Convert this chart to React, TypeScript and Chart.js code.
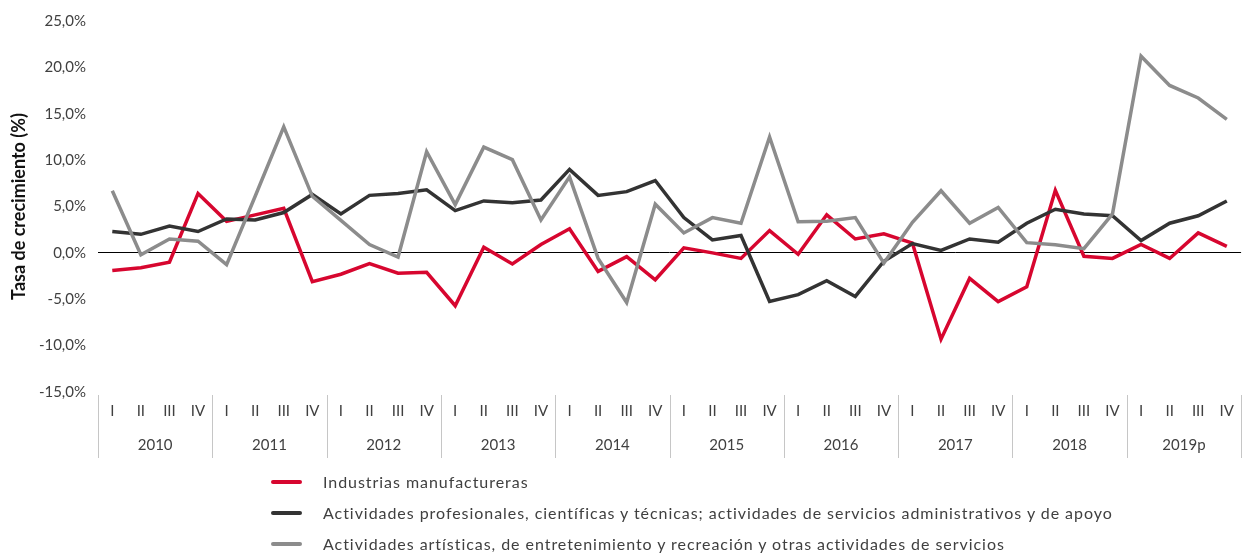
import React, { useEffect, useRef } from 'react';
import { Chart, registerables } from 'chart.js';

Chart.register(...registerables);

const years = ['2010', '2011', '2012', '2013', '2014', '2015', '2016', '2017', '2018', '2019p'];
const quarters = ['I', 'II', 'III', 'IV'];
const categories = years.flatMap((y) => quarters.map((q) => `${q}|${y}`));

const seriesNames = [
  'Industrias manufactureras',
  'Actividades profesionales, científicas y técnicas; actividades de servicios administrativos y de apoyo',
  'Actividades artísticas, de entretenimiento y recreación y otras actividades de servicios',
];
const seriesColors = ['#d7062f', '#333333', '#8c8c8c'];

const manufactureras = [
  -1.9, -1.6, -1.0, 6.4,
  3.4, 4.1, 4.8, -3.1,
  -2.3, -1.15, -2.2, -2.1,
  -5.7, 0.6, -1.2, 0.9,
  2.6, -2.0, -0.4, -2.9,
  0.55, 0.0, -0.6, 2.4,
  -0.15, 4.1, 1.5, 2.05,
  1.05, -9.3, -2.75, -5.25,
  -3.65, 6.75, -0.37, -0.6,
  0.9, -0.6, 2.15, 0.7,
];
const profesionales = [
  2.3, 2.0, 2.9, 2.3,
  3.65, 3.55, 4.35, 6.3,
  4.2, 6.2, 6.4, 6.8,
  4.55, 5.6, 5.4, 5.7,
  9.0, 6.2, 6.6, 7.8,
  3.8, 1.4, 1.87, -5.25,
  -4.5, -3.0, -4.7, -0.9,
  1.0, 0.27, 1.5, 1.15,
  3.2, 4.7, 4.2, 4.0,
  1.33, 3.2, 4.0, 5.6,
];
const artisticas = [
  6.7, -0.2, 1.5, 1.26,
  -1.26, 6.1, 13.6, 6.1,
  3.5, 0.9, -0.45, 10.9,
  5.2, 11.4, 10.05, 3.55,
  8.2, -0.6, -5.35, 5.25,
  2.15, 3.8, 3.2, 12.5,
  3.35, 3.4, 3.8, -1.1,
  3.3, 6.7, 3.2, 4.9,
  1.1, 0.87, 0.45, 4.2,
  21.2, 18.05, 16.7, 14.4,
];
const seriesValues = [manufactureras, profesionales, artisticas];
const seriesOrder = [2, 1, 0];

const yMin = -15;
const yMax = 25;
const yStep = 5;

const FONT = 'Lato, "Noto Sans", sans-serif';
const TEXT = '#404040';

const separatorPlugin = {
  id: 'yearSeparators',
  afterDraw(chart: any) {
    const x = chart.scales.x;
    const x2 = chart.scales.x2;
    const ctx = chart.ctx;
    ctx.save();
    ctx.strokeStyle = '#c6c6c6';
    ctx.lineWidth = 1;
    const n = years.length;
    for (let i = 0; i <= n; i++) {
      let px: number;
      if (i === 0) px = x.left;
      else if (i === n) px = x.right;
      else px = (x.getPixelForValue(i * 4 - 1) + x.getPixelForValue(i * 4)) / 2;
      px = Math.round(px) + 0.5;
      ctx.beginPath();
      ctx.moveTo(px, x.top + 3);
      ctx.lineTo(px, x2.bottom - 12);
      ctx.stroke();
    }
    ctx.restore();
  },
};

export default function App() {
  const canvasRef = useRef<HTMLCanvasElement | null>(null);

  useEffect(() => {
    if (!canvasRef.current) return;
    const chart = new Chart(canvasRef.current, {
      type: 'line',
      data: {
        labels: categories,
        datasets: seriesNames.map((name, i) => ({
          label: name,
          data: seriesValues[i],
          borderColor: seriesColors[i],
          backgroundColor: seriesColors[i],
          borderWidth: 3.5,
          pointRadius: 0,
          tension: 0,
          fill: false,
          order: seriesOrder[i],
        })),
      },
      options: {
        responsive: false,
        animation: false,
        layout: { padding: { top: 18, right: 2, left: 0, bottom: 0 } },
        plugins: {
          legend: { display: false },
          tooltip: { enabled: false },
        },
        scales: {
          x: {
            type: 'category',
            offset: true,
            weight: 0,
            grid: { display: false, drawTicks: false },
            border: { display: false },
            ticks: {
              autoSkip: false,
              maxRotation: 0,
              padding: 10,
              color: TEXT,
              font: { family: FONT, size: 15 },
              callback: (_v: any, idx: number) => categories[idx].split('|')[0],
            },
            afterFit: (s: any) => {
              s.height = 36;
            },
          },
          x2: {
            type: 'category',
            position: 'bottom',
            labels: years,
            offset: true,
            weight: 1,
            grid: { display: false, drawTicks: false },
            border: { display: false },
            ticks: {
              autoSkip: false,
              maxRotation: 0,
              padding: 8,
              color: TEXT,
              font: { family: FONT, size: 15 },
            },
            afterFit: (s: any) => {
              s.height = 42;
            },
          },
          y: {
            min: yMin,
            max: yMax,
            ticks: {
              stepSize: yStep,
              padding: 12,
              color: TEXT,
              font: { family: FONT, size: 15 },
              callback: (v: any) => Number(v).toFixed(1).replace('.', ',') + '%',
            },
            grid: {
              drawTicks: false,
              lineWidth: 1,
              color: (c: any) => (c.tick && c.tick.value === 0 ? '#000000' : 'rgba(0,0,0,0)'),
            },
            border: { display: false },
            title: {
              display: true,
              text: 'Tasa de crecimiento (%)',
              color: '#111111',
              font: { family: FONT, size: 18, weight: 'bold' },
              padding: { top: 8, bottom: 0 },
            },
            afterFit: (s: any) => {
              s.width = 98;
            },
          },
        },
      },
      plugins: [separatorPlugin],
    });
    return () => chart.destroy();
  }, []);

  return (
    <div style={{ position: 'absolute', left: 0, top: 0, width: 1244, height: 555, background: '#ffffff' }}>
      <canvas ref={canvasRef} width={1244} height={470} style={{ display: 'block' }} />
      <div
        style={{
          position: 'absolute',
          left: 271,
          top: 466,
          fontFamily: FONT,
          fontSize: 16,
          letterSpacing: 0.95,
          color: TEXT,
        }}
      >
        {seriesNames.map((name, i) => (
          <div key={name} style={{ display: 'flex', alignItems: 'center', height: 31, whiteSpace: 'nowrap' }}>
            <span
              style={{
                display: 'inline-block',
                width: 31,
                height: 4,
                borderRadius: 2,
                background: seriesColors[i],
                marginRight: 21,
              }}
            />
            <span>{name}</span>
          </div>
        ))}
      </div>
    </div>
  );
}
